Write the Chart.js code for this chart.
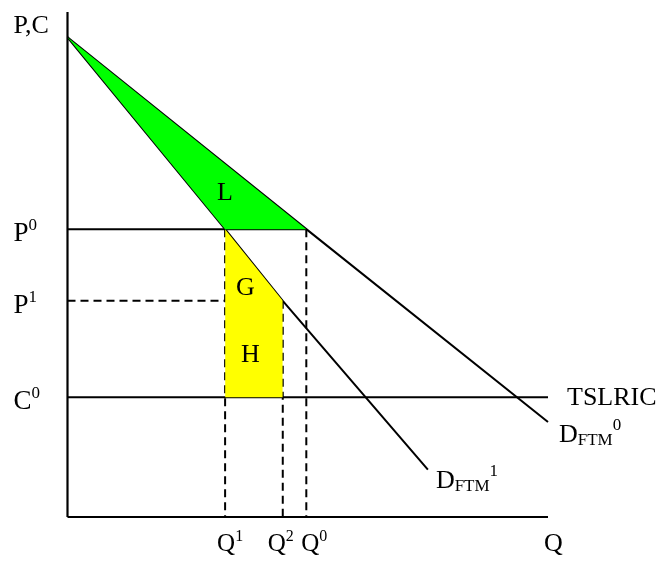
<!DOCTYPE html>
<html>
<head>
<meta charset="utf-8">
<script src="https://cdn.jsdelivr.net/npm/chart.js@4/dist/chart.umd.min.js"></script>
<style>
  body { margin: 0; background: #fff; }
  #wrap { width: 656px; height: 562px; }
</style>
</head>
<body>
<div id="wrap"><canvas id="chart" width="656" height="562"></canvas></div>
<script>
// quantities on the Q axis (0..100) and prices on the P axis (0..100)
const qNames = ["Q1", "Q2", "Q0"];
const qSup = ["1", "2", "0"];
const qValues = [32.8, 44.8, 49.7];
const pNames = ["P", "P", "C"];
const pSup = ["0", "1", "0"];
const pValues = [57, 42.8, 23.7];   // P0, P1, C0
const apex = 95;                    // demand intercept
const d0End = [100, 18.8];          // end of D_FTM^0
const d1End = [75, 9.4];            // end of D_FTM^1
const axisMax = 100;

const Q1 = qValues[0], Q2 = qValues[1], Q0 = qValues[2];
const P0 = pValues[0], P1 = pValues[1], C0 = pValues[2];

const pt = (x, y) => ({ x, y });

function seg(points, opts) {
  return Object.assign({
    data: points,
    showLine: true,
    borderColor: "#000",
    borderWidth: 2,
    pointRadius: 0,
    fill: false,
    clip: false,
    tension: 0
  }, opts || {});
}

const dash = [8, 5];

const datasets = [
  // green area L: between D0 and D1 above P0
  seg([pt(0, apex), pt(Q0, P0)], { borderWidth: 0, fill: "+1", backgroundColor: "#00ff00" }),
  seg([pt(0, apex), pt(Q1, P0), pt(Q0, P0)], { borderWidth: 0 }),
  // yellow area G + H: under D1 between Q1 and Q2, down to C0
  seg([pt(Q1, P0), pt(Q2, P1)], { borderWidth: 0, fill: { value: C0 }, backgroundColor: "#ffff00" }),

  // axes
  seg([pt(0, 0), pt(0, axisMax)], { borderWidth: 2.2 }),
  seg([pt(0, 0), pt(axisMax, 0)], { borderWidth: 2.2 }),

  // demand curves
  seg([pt(0, apex), pt(Q0, P0), pt(d0End[0], d0End[1])]),
  seg([pt(0, apex), pt(Q1, P0), pt(Q2, P1), pt(d1End[0], d1End[1])]),

  // price lines
  seg([pt(0, P0), pt(Q0, P0)]),
  seg([pt(0, P1), pt(Q2, P1)], { borderDash: dash }),
  seg([pt(0, C0), pt(axisMax, C0)]),

  // dashed drop lines
  seg([pt(Q1, P0), pt(Q1, 0)], { borderDash: dash }),
  seg([pt(Q2, P1), pt(Q2, 0)], { borderDash: dash }),
  seg([pt(Q0, P0), pt(Q0, 0)], { borderDash: dash })
];

const FONT = '"Liberation Serif", "Times New Roman", serif';

// draw "base + sub + sup" style text left to right
function rich(ctx, parts, x, y) {
  parts.forEach(p => {
    ctx.font = p.size + "px " + FONT;
    ctx.fillText(p.t, x, y + (p.dy || 0));
    x += ctx.measureText(p.t).width;
  });
}

const labelPlugin = {
  id: "labels",
  afterDraw(chart) {
    const ctx = chart.ctx;
    const xs = chart.scales.x, ys = chart.scales.y;
    const X = v => xs.getPixelForValue(v);
    const Y = v => ys.getPixelForValue(v);
    ctx.save();
    ctx.fillStyle = "#000";
    ctx.textBaseline = "alphabetic";
    ctx.textAlign = "left";

    // axis titles
    rich(ctx, [{ t: "P,C", size: 26 }], X(0) - 54, Y(axisMax) + 21);
    rich(ctx, [{ t: "Q", size: 26 }], X(axisMax) - 4, 551);

    // price ticks
    pValues.forEach((v, i) => {
      rich(ctx, [{ t: pNames[i], size: 27 }, { t: pSup[i], size: 17, dy: -11 }], X(0) - 54, Y(v) + 12);
    });

    // quantity ticks
    const qOff = [-8, -15, -5];
    qValues.forEach((v, i) => {
      rich(ctx, [{ t: "Q", size: 25 }, { t: qSup[i], size: 16, dy: -10 }], X(v) + qOff[i], 551);
    });

    // line labels
    rich(ctx, [{ t: "TSLRIC", size: 26 }], X(axisMax) + 19, Y(C0) + 8);
    rich(ctx, [{ t: "D", size: 26 }, { t: "FTM", size: 17, dy: 3 }, { t: "0", size: 17, dy: -12 }],
      X(d0End[0]) + 11, Y(d0End[1]) + 20);
    rich(ctx, [{ t: "D", size: 26 }, { t: "FTM", size: 17, dy: 3 }, { t: "1", size: 17, dy: -12 }],
      X(d1End[0]) + 8, Y(d1End[1]) + 18);

    // area labels
    rich(ctx, [{ t: "L", size: 26 }], X(Q1) - 8, Y(P0) - 29);
    rich(ctx, [{ t: "G", size: 26 }], X(Q1) + 11, Y(P1) - 6);
    rich(ctx, [{ t: "H", size: 26 }], X(Q1) + 16, Y(C0) - 35);

    ctx.restore();
  }
};

const chart = new Chart(document.getElementById("chart"), {
  type: "scatter",
  data: { datasets },
  options: {
    responsive: false,
    animation: false,
    layout: { padding: { left: 67.5, right: 108, top: 12, bottom: 45 } },
    scales: {
      x: { type: "linear", min: 0, max: axisMax, display: false },
      y: { type: "linear", min: 0, max: axisMax, display: false }
    },
    plugins: {
      legend: { display: false },
      tooltip: { enabled: false }
    }
  },
  plugins: [labelPlugin]
});
</script>
</body>
</html>
